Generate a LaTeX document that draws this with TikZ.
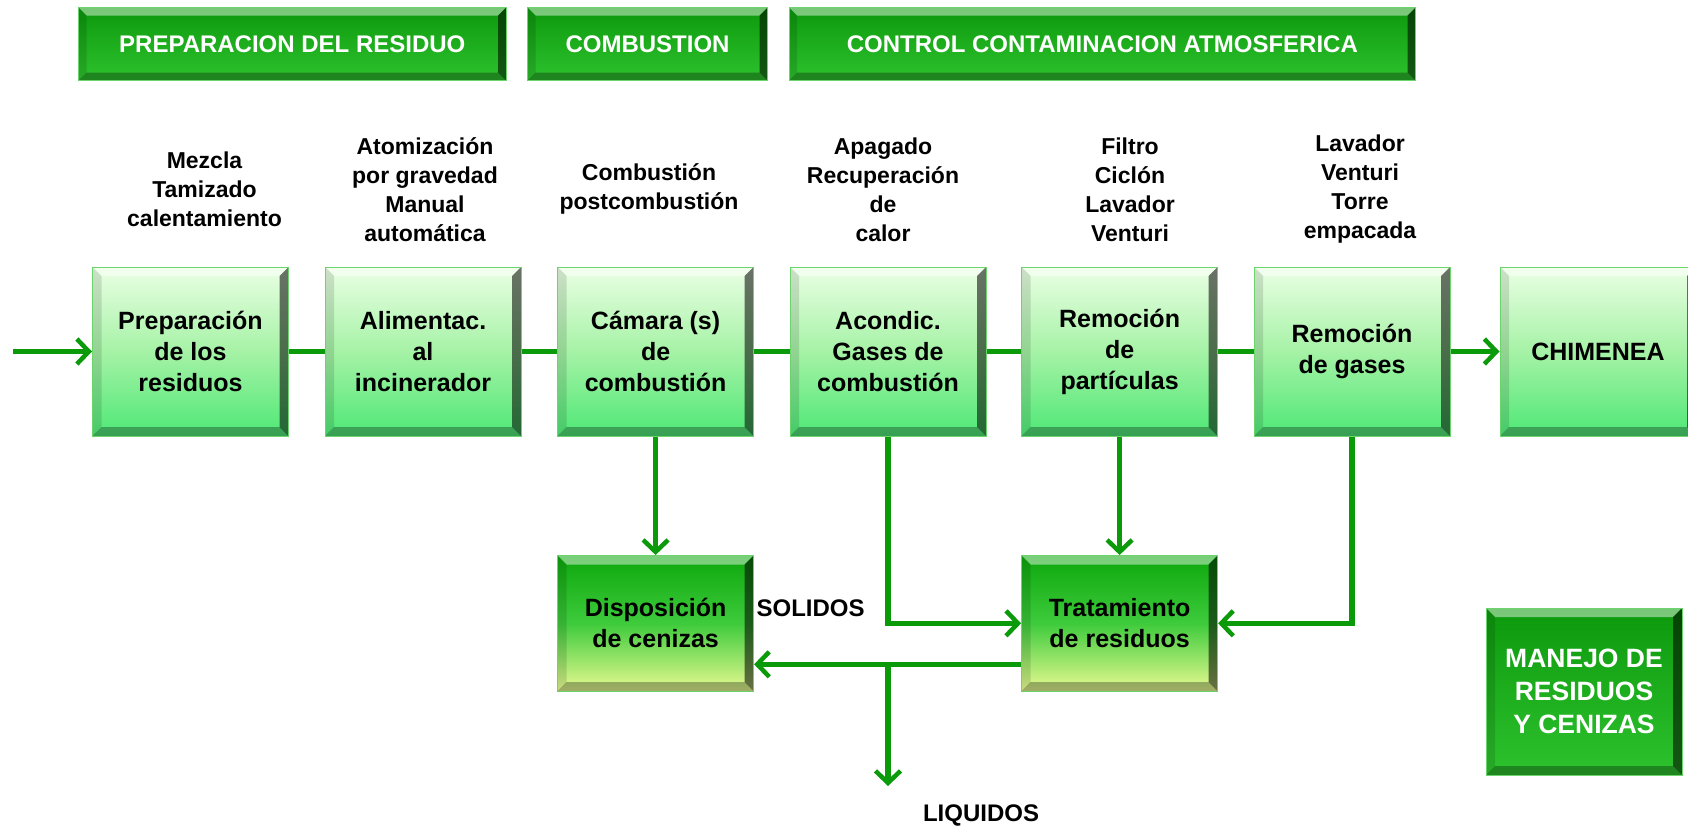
\documentclass[tikz,border=0pt]{standalone}
\usepackage{fontspec}
\setmainfont{Liberation Sans}
\usetikzlibrary{arrows.meta}
\definecolor{arrowgreen}{HTML}{0A9A0A}
\definecolor{boxedge}{HTML}{6CD46C}
\definecolor{mtop}{HTML}{EAFFE4}
\definecolor{mmid}{HTML}{A6F2A6}
\definecolor{mbot}{HTML}{4EE876}
\definecolor{htop}{HTML}{0C990C}
\definecolor{hbot}{HTML}{2EC22E}
\definecolor{dtop}{HTML}{0CA70C}
\definecolor{dmid}{HTML}{3ECB3C}
\definecolor{dbot}{HTML}{E8FA92}
\tikzset{
  bev/.style={path picture={
    \coordinate (pnw) at (path picture bounding box.north west);
    \coordinate (pne) at (path picture bounding box.north east);
    \coordinate (psw) at (path picture bounding box.south west);
    \coordinate (pse) at (path picture bounding box.south east);
    \fill[white,opacity=.45] (pnw) -- (pne) -- ([xshift=-#1,yshift=-#1]pne) -- ([xshift=#1,yshift=-#1]pnw) -- cycle;
    \fill[black,opacity=.12] (pnw) -- (psw) -- ([xshift=#1,yshift=#1]psw) -- ([xshift=#1,yshift=-#1]pnw) -- cycle;
    \fill[black,opacity=.3] (psw) -- (pse) -- ([xshift=-#1,yshift=#1]pse) -- ([xshift=#1,yshift=#1]psw) -- cycle;
    \fill[black,opacity=.55] (pne) -- (pse) -- ([xshift=-#1,yshift=#1]pse) -- ([xshift=-#1,yshift=-#1]pne) -- cycle;
  }},
  bev/.default=9pt,
  mbox/.style={draw=boxedge, line width=1pt, top color=mtop, bottom color=mbot, middle color=mmid,
    minimum width=196pt, minimum height=169pt, inner sep=0pt, align=center,
    font=\bfseries\fontsize{25}{31}\selectfont, bev},
  dbox/.style={draw=boxedge, line width=1pt, top color=dtop, bottom color=dbot, middle color=dmid,
    minimum width=196pt, minimum height=135.6pt, inner sep=0pt, align=center,
    font=\bfseries\fontsize{25}{31}\selectfont, bev},
  hbox/.style={draw=boxedge, line width=1pt, top color=htop, bottom color=hbot,
    minimum height=73pt, inner sep=0pt, align=center, text=white,
    font=\bfseries\fontsize{24}{28}\selectfont, bev=8pt},
  gbox/.style={draw=boxedge, line width=1pt, top color=htop, bottom color=hbot,
    minimum width=196pt, minimum height=167pt, inner sep=0pt, align=center, text=white,
    font=\bfseries\fontsize{26.5}{33}\selectfont, bev},
  lab/.style={align=center, inner sep=0pt, font=\bfseries\fontsize{23}{29}\selectfont},
  tag/.style={inner sep=0pt, font=\bfseries\fontsize{24}{28}\selectfont},
  conn/.style={draw=arrowgreen, line width=5.4pt},
  arr/.style={conn, -{Straight Barb[length=12pt,width=25pt,line width=4.5pt]}},
}
\begin{document}
\begin{tikzpicture}[x=1pt,y=-1pt]
\useasboundingbox (0,0) rectangle (1688,827);
% headers
\node[hbox, minimum width=427.4pt] (h1) at (292.3,44) {PREPARACION DEL RESIDUO};
\node[hbox, minimum width=240pt] (h2) at (647.5,44) {COMBUSTION};
\node[hbox, minimum width=626.6pt] (h3) at (1102.3,44) {CONTROL CONTAMINACION ATMOSFERICA};
% labels above
\node[lab] (l1) at (204.5,189.5) {Mezcla\\Tamizado\\calentamiento};
\node[lab] (l2) at (425,189.5) {Atomización\\por gravedad\\Manual\\automática};
\node[lab] (l3) at (649,188.5) {Combustión\\postcombustión};
\node[lab] (l4) at (883,189.5) {Apagado\\Recuperación\\de\\calor};
\node[lab] (l5) at (1130,189.5) {Filtro\\Ciclón\\Lavador\\Venturi};
\node[lab] (l6) at (1360,189.5) {Lavador\\Venturi\\Torre\\empacada};
% main row
\node[mbox] (b1) at (190.5,351.5) {Preparación\\de los\\residuos};
\node[mbox] (b2) at (423,351.5) {Alimentac.\\al\\incinerador};
\node[mbox] (b3) at (655.6,351.5) {Cámara (s)\\de\\combustión};
\node[mbox] (b4) at (888,351.5) {Acondic.\\Gases de\\combustión};
\node[mbox] (b5) at (1119.6,351.5) {Remoción\\de\\partículas};
\node[mbox] (b6) at (1352,351.5) {Remoción\\de gases};
\node[mbox] (b7) at (1598,351.5) {CHIMENEA};
% lower row
\node[dbox] (disp) at (655.6,623.3) {Disposición\\de cenizas};
\node[dbox] (trat) at (1119.6,623.3) {Tratamiento\\de residuos};
\node[gbox] (man) at (1584,691.5) {MANEJO DE\\RESIDUOS\\Y CENIZAS};
% tags
\node[tag] (sol) at (810.6,608) {SOLIDOS};
\node[tag] (liq) at (981,815) {LIQUIDOS};
% connectors
\coordinate (start) at (13,351.5);
\draw[arr] (start) -- (b1.west);
\draw[conn] (b1.east) -- (b2.west);
\draw[conn] (b2.east) -- (b3.west);
\draw[conn] (b3.east) -- (b4.west);
\draw[conn] (b4.east) -- (b5.west);
\draw[conn] (b5.east) -- (b6.west);
\draw[arr] (b6.east) -- (b7.west);
\draw[arr] (b3.south) -- (disp.north);
\draw[arr] (b4.south) |- (trat.west);
\draw[arr] (b5.south) -- (trat.north);
\draw[arr] (b6.south) |- (trat.east);
\coordinate (tl) at ([yshift=-41pt]trat.west);
\draw[arr] (tl) -- (disp.east |- tl);
\coordinate (liqend) at (888,786);
\draw[arr] (b4.south |- tl) -- (liqend);
\end{tikzpicture}
\end{document}
